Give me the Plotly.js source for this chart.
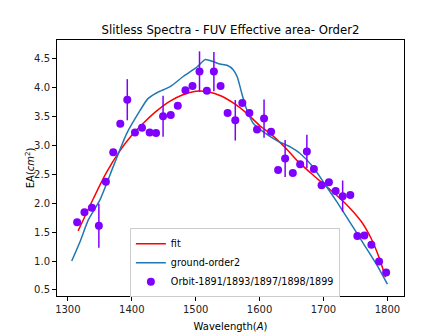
<!DOCTYPE html>
<html>
<head>
<meta charset="utf-8">
<script src="https://cdn.plot.ly/plotly-3.0.1.min.js"></script>
<style>
  html, body { margin: 0; padding: 0; background: #fff; }
  #chart { width: 448px; height: 332px; }
</style>
</head>
<body>
<div id="chart"></div>
<script>
// measured points (orbits 1891/1893/1897/1898/1899)
const obsWave = [1314.5, 1326, 1337.6, 1348.5, 1359.5, 1371, 1382, 1393, 1405, 1416,
    1428, 1438, 1449, 1461, 1472, 1484, 1495, 1506, 1517.5, 1528.5,
    1539, 1550, 1562, 1573, 1584, 1596, 1607, 1618, 1629, 1640,
    1652, 1663.5, 1674, 1685, 1697, 1708.5, 1719, 1730, 1742, 1753,
    1764, 1775, 1787, 1798];
const obsEA = [1.67, 1.84, 1.92, 1.61, 2.37, 2.88, 3.37, 3.785, 3.22, 3.30,
    3.22, 3.21, 3.50, 3.52, 3.68, 3.95, 4.02, 4.27, 3.94, 4.27,
    4.02, 3.555, 3.43, 3.73, 3.555, 3.27, 3.46, 3.23, 2.57, 2.77,
    2.52, 2.67, 2.89, 2.59, 2.31, 2.36, 2.21, 2.12, 2.14, 1.43,
    1.44, 1.28, 0.99, 0.80];
const obsErr = [0, 0, 0, 0.38, 0, 0, 0, 0.355, 0, 0,
    0, 0, 0.355, 0, 0, 0, 0, 0.35, 0, 0.34,
    0, 0, 0.35, 0, 0, 0, 0.33, 0, 0, 0.32,
    0, 0, 0.29, 0, 0, 0, 0, 0.27, 0, 0,
    0, 0, 0, 0];

// fit curve
const fitWave = [1316, 1340, 1360, 1380, 1400, 1420, 1440, 1460, 1480, 1500,
    1520, 1540, 1560, 1580, 1600, 1620, 1640, 1660, 1680, 1700,
    1720, 1740, 1760, 1775, 1787, 1797];
const fitEA = [1.52, 2.08, 2.52, 2.88, 3.17, 3.40, 3.60, 3.76, 3.87, 3.93,
    3.92, 3.85, 3.72, 3.55, 3.34, 3.17, 2.96, 2.72, 2.52, 2.33,
    2.14, 1.93, 1.67, 1.38, 1.06, 0.72];

// ground calibration, order 2
const gndWave = [1306, 1320, 1332, 1350, 1371, 1392, 1413, 1425, 1440, 1460,
    1481, 1502, 1515, 1528, 1538, 1549, 1559, 1565, 1572, 1580,
    1590, 1606, 1627, 1648, 1663, 1684, 1702, 1721, 1742, 1762,
    1783, 1800];
const gndEA = [1.0, 1.36, 1.71, 2.05, 2.63, 3.2, 3.6, 3.8, 3.91, 4.01,
    4.19, 4.35, 4.48, 4.44, 4.40, 4.38, 4.30, 4.18, 3.9, 3.61,
    3.38, 3.23, 3.08, 2.97, 2.86, 2.62, 2.33, 2.02, 1.66, 1.31,
    0.94, 0.60];

const traces = [
    {
        x: fitWave, y: fitEA, mode: 'lines', type: 'scatter', name: 'fit',
        line: {color: 'red', width: 1.5, shape: 'spline', smoothing: 0.8}
    },
    {
        x: gndWave, y: gndEA, mode: 'lines', type: 'scatter', name: 'ground-order2',
        line: {color: '#1f77b4', width: 1.5, shape: 'spline', smoothing: 0.6}
    },
    {
        x: obsWave, y: obsEA, mode: 'markers', type: 'scatter',
        name: 'Orbit-1891/1893/1897/1898/1899',
        marker: {color: '#8000ff', size: 8},
        error_y: {type: 'data', array: obsErr, visible: true, color: '#8000ff', thickness: 1.5, width: 0}
    }
];

const axisStyle = {
    showgrid: false, zeroline: false, showline: true, mirror: true,
    linecolor: '#000', linewidth: 1, ticks: 'outside', ticklen: 4,
    tickcolor: '#000', tickfont: {size: 10, color: '#222'}
};

Plotly.newPlot('chart', traces, {
    width: 448, height: 332,
    margin: {l: 57, r: 44, t: 40, b: 36},
    font: {family: 'DejaVu Sans', color: '#000'},
    title: {text: 'Slitless Spectra - FUV Effective area- Order2', font: {size: 11.7},
        x: 0.5145, xanchor: 'center', y: 0.91, yanchor: 'middle'},
    xaxis: Object.assign({}, axisStyle, {
        range: [1283, 1826], tickvals: [1300, 1400, 1500, 1600, 1700, 1800],
        title: {text: 'Wavelength(<i>A</i>)', font: {size: 10}}
    }),
    yaxis: Object.assign({}, axisStyle, {
        range: [0.396, 4.816], tickvals: [0.5, 1, 1.5, 2, 2.5, 3, 3.5, 4, 4.5],
        ticktext: ['0.5', '1.0', '1.5', '2.0', '2.5', '3.0', '3.5', '4.0', '4.5']
    }),
    annotations: [{
        text: 'EA(<i>cm</i><sup>2</sup>)', font: {size: 10},
        xref: 'paper', yref: 'paper', x: -0.077, y: 0.5,
        xanchor: 'center', yanchor: 'middle', textangle: -90, showarrow: false
    }],
    showlegend: true,
    legend: {
        x: 0.21, y: 0.13, xanchor: 'left', yanchor: 'middle',
        bgcolor: 'rgba(255,255,255,0.8)', bordercolor: '#ccc', borderwidth: 1,
        font: {size: 9.6}
    },
    plot_bgcolor: '#fff', paper_bgcolor: '#fff'
}, {staticPlot: true});
</script>
</body>
</html>
